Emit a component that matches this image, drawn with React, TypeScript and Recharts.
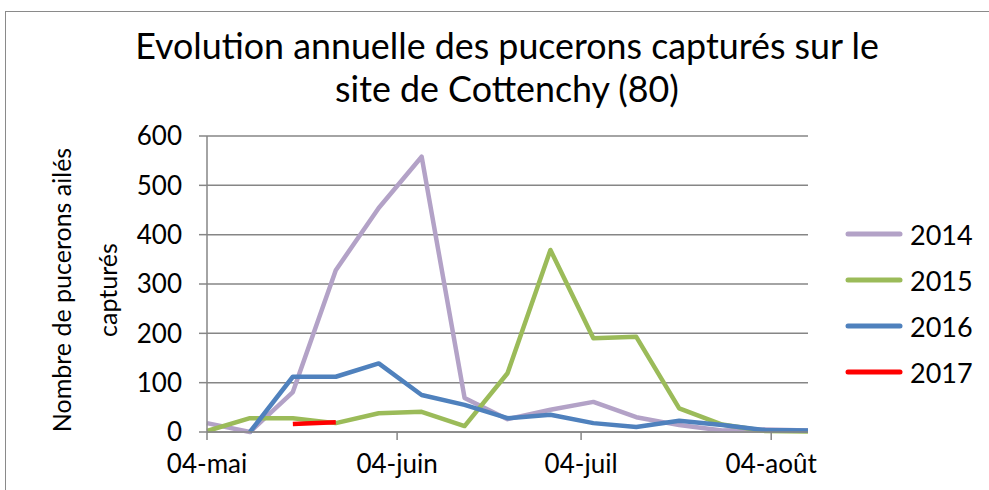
import { CartesianGrid, Line, LineChart, XAxis, YAxis } from 'recharts';

// Weekly trap counts, day offsets from 04-mai
const days = [0, 7, 14, 21, 28, 35, 42, 49, 56, 63, 70, 77, 84, 91, 98];
const y2014 = [18, 0, 81, 328, 454, 558, 69, 26, 45, 61, 30, 14, 3, 5, 3];
const y2015 = [2, 28, 28, 18, 38, 41, 12, 119, 369, 190, 193, 48, 15, 2, 1];
const y2016 = [null, 0, 112, 112, 139, 75, 55, 28, 35, 18, 10, 23, 14, 4, 3];
const y2017 = [null, null, 16, 20, null, null, null, null, null, null, null, null, null, null, null];

const monthTicks = [0, 31, 61, 92];
const monthLabels = ['04-mai', '04-juin', '04-juil', '04-août'];
const yTicks = [0, 100, 200, 300, 400, 500, 600];

const years = ['2014', '2015', '2016', '2017'];
const colors = ['#B3A2C7', '#9BBB59', '#4F81BD', '#FF0000'];
const seriesValues = [y2014, y2015, y2016, y2017];

const data = days.map((d, i) => {
  const row: Record<string, number | null> = { day: d };
  years.forEach((y, k) => {
    row[y] = seriesValues[k][i];
  });
  return row;
});

const FONT = 'Lato, "Open Sans", sans-serif';
const GRID = '#868686';

function LegendBox() {
  return (
    <div style={{ position: 'absolute', left: 845, top: 219, display: 'flex', flexDirection: 'column', gap: 16 }}>
      {years.map((y, k) => (
        <div key={y} style={{ display: 'flex', alignItems: 'center', height: 30 }}>
          <svg width={58} height={10}>
            <line x1={3} y1={5} x2={55} y2={5} stroke={colors[k]} strokeWidth={5} strokeLinecap="round" />
          </svg>
          <span style={{ marginLeft: 7, fontSize: 27, color: '#000' }}>{y}</span>
        </div>
      ))}
    </div>
  );
}

export default function App() {
  return (
    <div style={{ position: 'fixed', left: 0, top: 0, width: 989, height: 490, overflow: 'hidden', background: '#fff', fontFamily: FONT }}>
      <div style={{ position: 'absolute', left: 5, top: 11, width: 1000, height: 500, border: '1px solid #8a8a8a' }} />
      <div style={{ position: 'absolute', left: 0, top: 24, width: 1014, textAlign: 'center', fontSize: 35.8, lineHeight: '43px', color: '#000' }}>
        Evolution annuelle des pucerons capturés sur le
        <br />
        site de Cottenchy (80)
      </div>
      <div
        style={{
          position: 'absolute',
          left: 84,
          top: 290,
          width: 320,
          transform: 'translate(-50%, -50%) rotate(-90deg)',
          textAlign: 'center',
          fontSize: 25,
          lineHeight: '46px',
          color: '#000',
        }}
      >
        Nombre de pucerons ailés
        <br />
        capturés
      </div>
      <LineChart width={989} height={490} data={data} margin={{ top: 136, right: 181, bottom: 0, left: 0 }}>
        <CartesianGrid vertical={false} stroke={GRID} strokeWidth={1.5} />
        <XAxis
          dataKey="day"
          type="number"
          domain={[0, 98]}
          ticks={monthTicks}
          tickFormatter={(v) => monthLabels[monthTicks.indexOf(v)] ?? ''}
          height={58}
          stroke={GRID}
          strokeWidth={1.5}
          tickSize={8}
          tickMargin={15}
          tick={{ fontSize: 26, fill: '#000', fontFamily: FONT }}
        />
        <YAxis
          domain={[0, 600]}
          ticks={yTicks}
          width={207}
          stroke={GRID}
          strokeWidth={1.5}
          tickSize={8}
          tickMargin={17}
          tick={{ fontSize: 26, fill: '#000', fontFamily: FONT }}
        />
        {years.map((y, k) => (
          <Line
            key={y}
            type="linear"
            dataKey={y}
            stroke={colors[k]}
            strokeWidth={4.5}
            strokeLinejoin="round"
            dot={false}
            activeDot={false}
            isAnimationActive={false}
          />
        ))}
      </LineChart>
      <LegendBox />
    </div>
  );
}
